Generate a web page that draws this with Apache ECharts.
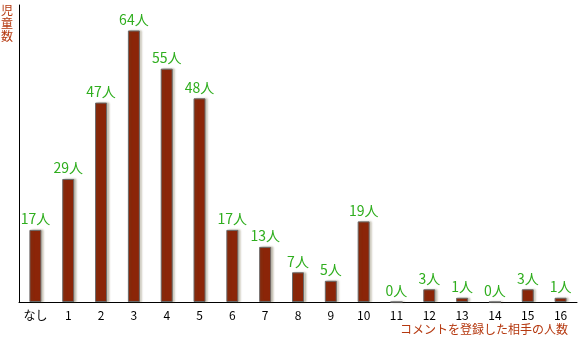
<!DOCTYPE html>
<html>
<head>
<meta charset="utf-8">
<script src="https://cdn.jsdelivr.net/npm/echarts@6/dist/echarts.min.js"></script>
<style>
html,body{margin:0;padding:0;background:#fff;}
#chart{width:580px;height:340px;}
</style>
</head>
<body>
<div id="chart"></div>
<script>
// 登録した相手の人数ごとの児童数
const categories = ['なし','1','2','3','4','5','6','7','8','9','10','11','12','13','14','15','16'];
const counts = [17, 29, 47, 64, 55, 48, 17, 13, 7, 5, 19, 0, 3, 1, 0, 3, 1];
const yAxisTitle = '児童数';
const xAxisTitle = 'コメントを登録した相手の人数';

const FONT = '"Noto Sans CJK JP", "Noto Sans", sans-serif';
const chart = echarts.init(document.getElementById('chart'), null, {renderer: 'canvas'});
chart.setOption({
  animation: false,
  grid: {left: 19, right: 3, top: 5, bottom: 38},
  xAxis: {
    type: 'category',
    data: categories,
    axisLine: {lineStyle: {color: '#000', width: 1}},
    axisTick: {show: false},
    axisLabel: {color: '#000', fontSize: 12, fontFamily: FONT, margin: 7}
  },
  yAxis: {
    type: 'value',
    min: 0,
    max: 70,
    axisLine: {show: true, lineStyle: {color: '#000', width: 1}},
    axisTick: {show: false},
    axisLabel: {show: false},
    splitLine: {show: false}
  },
  series: [{
    type: 'bar',
    data: counts,
    barWidth: 12,
    itemStyle: {
      color: '#8b2508',
      borderColor: '#6a6a6a',
      borderWidth: 1,
      shadowColor: 'rgba(90,80,40,0.3)',
      shadowBlur: 2,
      shadowOffsetX: 2,
      shadowOffsetY: 0
    },
    label: {
      show: true,
      position: 'top',
      distance: 4,
      formatter: p => p.value + '人',
      color: '#2fae1e',
      fontSize: 14,
      fontFamily: FONT
    }
  }],
  graphic: [
    {
      type: 'text',
      left: 1,
      top: 4,
      style: {text: yAxisTitle.split('').join('\n'), fill: '#b5380f', fontSize: 12, lineHeight: 13, fontFamily: FONT}
    },
    {
      type: 'text',
      right: 12,
      top: 323,
      style: {text: xAxisTitle, fill: '#b5380f', fontSize: 12, fontFamily: FONT}
    }
  ]
});
</script>
</body>
</html>
